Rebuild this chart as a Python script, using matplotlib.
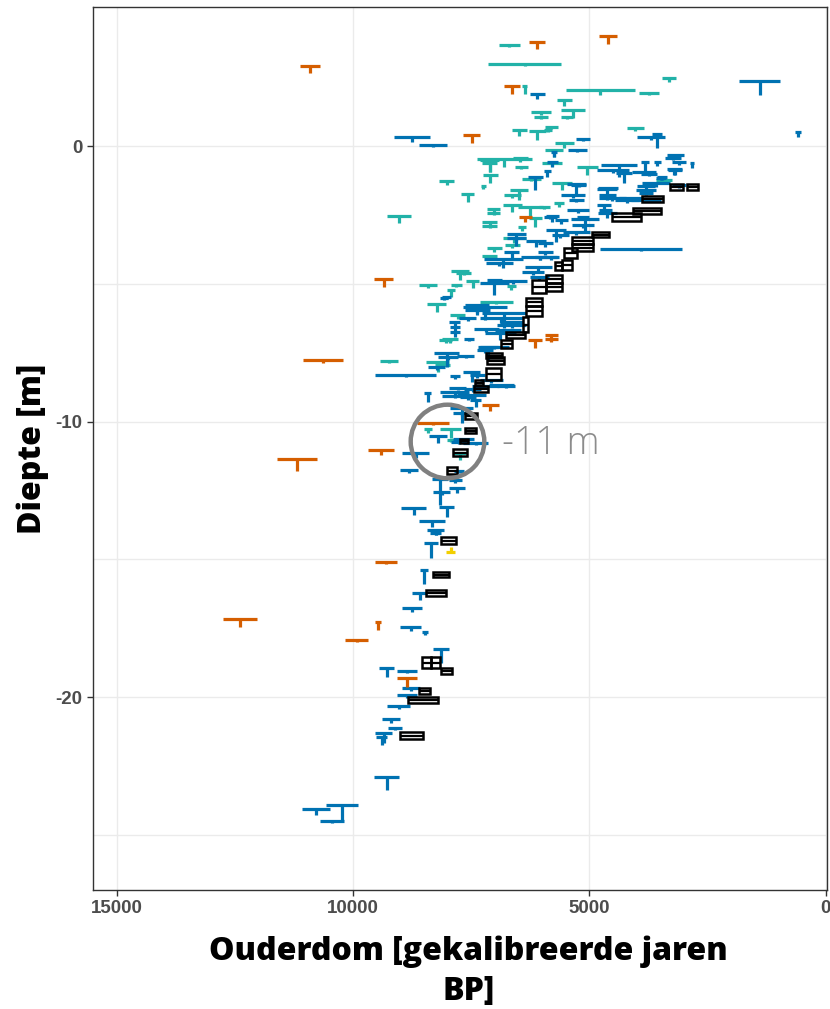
import numpy as np
import matplotlib
matplotlib.use("Agg")
import matplotlib.pyplot as plt
from matplotlib.patches import Rectangle

plt.rcParams["axes.unicode_minus"] = False

# rows: age (cal yr BP), depth (m), age half-range (yr), depth range below (m)
blue_points = [
    (1395, 2.36, 440, 0.51), (590, 0.51, 60, 0.18), (3695, 0.33, 295, 0.11),
    (3565, 0.44, 110, 0.51), (6100, 1.89, 160, 0.18), (8755, 0.33, 380, 0.18),
    (8315, 0.04, 295, 0.07), (5130, 0.25, 150, 0.07), (5255, -0.15, 200, 0.07),
    (5780, -0.58, 120, 0.18), (5740, -0.22, 60, 0.18), (5885, -0.91, 80, 0.22),
    (3185, -0.33, 180, 0.11), (3230, -0.44, 170, 0.07), (3100, -0.58, 150, 0.11),
    (2825, -0.62, 40, 0.18), (3820, -0.58, 85, 0.47), (3565, -0.58, 75, 0.15),
    (4370, -0.69, 390, 0.44), (4495, -0.87, 340, 0.11), (3840, -0.94, 250, 0.11),
    (3205, -0.83, 160, 0.22), (3460, -1.13, 110, 0.11), (3585, -1.34, 300, 0.15),
    (3800, -1.45, 200, 0.29), (3800, -1.60, 210, 0.11), (3800, -1.71, 140, 0.07),
    (5275, -1.38, 200, 0.40), (5340, -1.78, 260, 0.11), (5275, -1.96, 160, 0.07),
    (4620, -1.56, 210, 0.40), (4620, -1.78, 180, 0.11), (4515, -1.89, 285, 0.11),
    (4685, -2.14, 150, 0.18), (4660, -2.32, 140, 0.11), (4620, -2.43, 200, 0.18),
    (5235, -2.32, 230, 0.11), (4200, -1.96, 245, 0.11), (5780, -2.54, 140, 0.22),
    (5590, -2.69, 140, 0.15), (5085, -2.65, 295, 0.44), (5125, -2.87, 230, 0.11),
    (5700, -3.05, 210, 0.44), (5615, -3.23, 180, 0.11), (5275, -3.12, 285, 0.11),
    (5930, -3.52, 160, 0.15), (5930, -3.85, 160, 0.11), (6035, -4.03, 110, 0.11),
    (3905, -3.74, 875, 0.07), (3105, -1.42, 150, 0.11), (6815, -4.10, 410, 0.33),
    (6900, -4.25, 285, 0.11), (5800, -4.03, 120, 0.11), (6080, -4.39, 285, 0.15),
    (6190, -4.57, 240, 0.11), (6055, -4.76, 200, 0.11), (7005, -4.97, 316, 0.44),
    (7005, -4.86, 160, 0.07), (6605, -4.90, 285, 0.11), (8080, -5.52, 85, 0.07),
    (7215, -5.84, 465, 0.47), (7365, -5.95, 265, 0.11), (6795, -6.06, 465, 0.54),
    (6860, -6.24, 455, 0.18), (6645, -6.39, 245, 0.11), (6645, -6.50, 315, 0.11),
    (7850, -6.39, 115, 0.22), (7575, -6.24, 180, 0.11), (7850, -6.75, 105, 0.18),
    (7175, -6.64, 265, 0.11), (6880, -6.79, 325, 0.25), (6720, -6.68, 275, 0.07),
    (7535, -7.01, 105, 0.07), (7150, -7.30, 210, 0.47), (7215, -7.41, 170, 0.11),
    (8020, -7.51, 265, 0.51), (7995, -7.66, 210, 0.11), (7615, -7.62, 180, 0.07),
    (8230, -8.02, 180, 0.11), (8885, -8.31, 645, 0.07), (7850, -8.35, 105, 0.11),
    (7490, -8.20, 180, 0.36), (7365, -8.31, 160, 0.11), (7785, -8.78, 180, 0.07),
    (7850, -8.93, 315, 0.18), (7850, -9.08, 255, 0.07), (6770, -8.71, 190, 0.07),
    (8420, -8.97, 75, 0.33), (7070, -8.49, 245, 0.11), (7470, -8.82, 170, 0.11),
    (7490, -9.04, 315, 0.11), (7405, -9.22, 125, 0.25), (7700, -9.51, 245, 0.54),
    (7700, -9.69, 180, 0.11), (8190, -10.53, 190, 0.25), (7660, -10.64, 230, 0.11),
    (7765, -10.75, 160, 0.07), (7405, -10.78, 265, 0.07), (8675, -11.14, 295, 0.18),
    (8820, -11.76, 190, 0.11), (7765, -11.80, 105, 0.07), (8165, -12.09, 170, 0.94),
    (7830, -12.12, 140, 0.11), (7790, -12.41, 170, 0.18), (8125, -12.56, 180, 0.11),
    (8020, -13.10, 160, 0.36), (8715, -13.14, 265, 0.25), (8335, -13.61, 275, 0.22),
    (8250, -13.94, 180, 0.18), (8250, -14.05, 120, 0.07), (8355, -14.41, 150, 0.54),
    (8505, -15.39, 85, 0.51), (8590, -16.23, 150, 0.25), (8755, -16.77, 210, 0.15),
    (8780, -17.46, 230, 0.15), (8480, -17.64, 65, 0.11), (8145, -18.26, 170, 0.51),
    (9285, -18.95, 160, 0.33), (8860, -19.06, 210, 0.07), (8780, -19.67, 190, 0.11),
    (8860, -19.93, 210, 0.11), (9030, -20.33, 245, 0.11), (9200, -20.80, 190, 0.15),
    (9115, -21.13, 150, 0.07), (9345, -21.31, 180, 0.36), (9390, -21.45, 120, 0.29),
    (9285, -22.91, 265, 0.47), (10235, -23.92, 340, 0.54), (10780, -24.07, 295, 0.22),
    (10445, -24.50, 255, 0.07), (6140, -1.12, 160, 0.47), (5825, -2.58, 140, 0.07),
    (6540, -3.19, 210, 0.44), (6540, -3.34, 210, 0.11), (6120, -3.45, 210, 0.22),
    (6645, -3.85, 160, 0.29), (6035, -4.03, 400, 0.11), (4260, -0.98, 170, 0.36),
    (3185, -0.87, 140, 0.18), (3735, -1.02, 160, 0.07), (3480, -1.16, 105, 0.07),
    (5220, -1.42, 160, 0.07), (4600, -1.52, 210, 0.07), (4125, -1.89, 245, 0.07),
    (3800, -1.96, 315, 0.07), (5125, -2.58, 130, 0.07), (8020, -5.48, 105, 0.07),
    (7375, -5.77, 250, 0.36), (7850, -6.57, 105, 0.18), (7005, -7.30, 315, 0.07),
    (6860, -8.67, 265, 0.07), (7195, -8.71, 285, 0.07), (7575, -9.11, 170, 0.11),
]

teal_points = [
    (6690, 3.67, 220, 0.07), (6370, 2.98, 780, 0.07), (6370, 2.18, 60, 0.29),
    (4770, 2.03, 730, 0.18), (3735, 1.92, 220, 0.07), (3315, 2.47, 150, 0.15),
    (4030, 0.65, 180, 0.11), (5530, 1.67, 160, 0.22), (6015, 1.23, 210, 0.11),
    (6015, 1.05, 150, 0.07), (5340, 1.31, 260, 0.29), (5465, 1.05, 130, 0.07),
    (6795, -0.47, 590, 0.29), (7110, -0.51, 210, 0.44), (6460, -0.44, 160, 0.15),
    (7110, -0.62, 160, 0.33), (6435, -0.76, 130, 0.07), (8020, -1.27, 150, 0.15),
    (7090, -1.05, 150, 0.29), (7240, -1.45, 60, 0.11), (7575, -1.74, 130, 0.29),
    (9030, -2.54, 250, 0.25), (6225, -1.20, 200, 0.07), (6480, -1.60, 190, 0.36),
    (6625, -1.78, 180, 0.11), (7025, -2.29, 140, 0.11), (7025, -2.43, 140, 0.07),
    (6625, -2.14, 210, 0.25), (6245, -2.21, 270, 0.36), (6140, -2.61, 130, 0.33),
    (7110, -2.76, 150, 0.11), (7110, -2.90, 150, 0.07), (6415, -2.94, 85, 0.15),
    (6585, -3.34, 250, 0.18), (6625, -3.59, 150, 0.11), (7005, -3.70, 160, 0.15),
    (7110, -3.99, 160, 0.15), (7725, -4.54, 190, 0.33), (7660, -4.61, 160, 0.07),
    (7470, -4.90, 130, 0.25), (8420, -5.05, 190, 0.11), (7810, -5.05, 110, 0.07),
    (7935, -5.23, 85, 0.25), (8230, -5.74, 200, 0.29), (6965, -5.66, 350, 0.07),
    (6650, -5.08, 90, 0.15), (7785, -6.13, 160, 0.15), (8040, -7.04, 130, 0.11),
    (9240, -7.80, 190, 0.07), (8210, -7.84, 240, 0.36), (8105, -7.95, 160, 0.07),
    (7955, -7.00, 170, 0.15), (8420, -10.27, 85, 0.15), (7935, -10.27, 230, 0.33),
    (7745, -11.14, 130, 0.25), (7935, -10.67, 85, 0.07), (6480, 0.58, 160, 0.22),
    (6100, 0.54, 180, 0.33), (5800, 0.69, 130, 0.07), (5530, 0.11, 200, 0.18),
    (5740, -0.15, 190, 0.25), (5780, -0.62, 210, 0.11), (5045, -0.76, 220, 0.29),
    (5570, -1.34, 210, 0.25), (3420, -1.23, 160, 0.11), (5635, -2.07, 110, 0.15),
    (5950, -2.21, 110, 0.07), (5870, 0.58, 80, 0.07),
]

orange_points = [
    (10910, 2.90, 210, 0.25), (6100, 3.78, 170, 0.25), (4600, 3.99, 190, 0.29),
    (6625, 2.18, 170, 0.29), (7490, 0.40, 180, 0.29), (6350, -2.58, 130, 0.18),
    (9350, -4.83, 200, 0.29), (6140, -7.04, 150, 0.29), (5800, -6.86, 130, 0.25),
    (5800, -7.00, 130, 0.07), (10630, -7.77, 420, 0.10), (8310, -10.05, 340, 0.07),
    (9410, -11.04, 270, 0.18), (11180, -11.36, 420, 0.44), (7090, -9.40, 170, 0.22),
    (9305, -15.10, 230, 0.07), (9475, -17.28, 60, 0.29), (9920, -17.93, 240, 0.07),
    (12390, -17.17, 360, 0.29), (8860, -19.31, 210, 0.33),
]

# inverted marker: range reaches upward from the bar
yellow_points = [(7930, -14.74, 100, 0.18)]

# boxes: older age, younger age, upper depth, lower depth
box_ranges = [
    (3292, 3017, -1.38, -1.60), (2933, 2701, -1.38, -1.60), (3882, 3439, -1.82, -2.03),
    (4072, 3482, -2.25, -2.47), (4515, 3904, -2.43, -2.72), (4937, 4579, -3.12, -3.30),
    (5359, 4916, -3.30, -3.56), (5359, 4916, -3.56, -3.81), (5528, 5254, -3.70, -4.07),
    (5570, 5359, -4.14, -4.50), (5718, 5570, -4.21, -4.50), (5908, 5570, -4.68, -4.97),
    (5908, 5570, -4.97, -5.26), (6203, 5908, -4.86, -5.34), (6330, 5992, -5.52, -5.81),
    (6330, 5992, -5.81, -6.17), (6393, 6288, -6.21, -6.75), (6752, 6351, -6.75, -6.97),
    (6858, 6625, -7.04, -7.33), (7195, 6836, -7.51, -7.70), (7174, 6794, -7.66, -7.91),
    (7195, 6858, -8.06, -8.49), (7427, 7258, -8.49, -8.68), (7448, 7132, -8.71, -8.93),
    (7638, 7385, -9.69, -9.91), (7638, 7406, -10.24, -10.42), (7744, 7575, -10.64, -10.78),
    (7891, 7596, -11.00, -11.25), (8018, 7807, -11.65, -11.91), (8145, 7828, -14.19, -14.45),
    (8313, 7976, -15.46, -15.65), (8461, 8039, -16.12, -16.34), (8546, 8356, -18.55, -18.95),
    (8356, 8166, -18.55, -18.95), (8145, 7913, -18.95, -19.17), (8609, 8377, -19.67, -19.89),
    (8841, 8208, -20.00, -20.22), (9010, 8524, -21.27, -21.53),
]

BLUE = "#0072B2"
TEAL = "#22B2A8"
ORANGE = "#D55E00"
YELLOW = "#F2CF00"


def draw_t(ax, rows, color, upward=False):
    a = np.array(rows, dtype=float)
    age, depth, aerr, derr = a.T
    tip = depth + derr if upward else depth - derr
    ax.hlines(depth, age - aerr, age + aerr, colors=color, lw=2.3, zorder=3)
    ax.vlines(age, depth, tip, colors=color, lw=2.3, zorder=3)


fig = plt.figure(figsize=(8.30, 10.09), dpi=100)
ax = fig.add_axes([0.112, 0.118, 0.8844, 0.8751])

draw_t(ax, teal_points, TEAL)
draw_t(ax, blue_points, BLUE)
draw_t(ax, orange_points, ORANGE)
draw_t(ax, yellow_points, YELLOW, upward=True)

for old, young, top, bot in box_ranges:
    ax.add_patch(Rectangle((young, bot), old - young, top - bot, facecolor="none",
                           edgecolor="black", lw=1.8, zorder=4))
    ax.hlines((top + bot) / 2, young, old, colors="black", lw=1.6, zorder=4)

# highlighted level
ax.plot([8020], [-10.7], marker="o", ms=53, mfc="none", mec="#808080", mew=3.2,
        zorder=5, linestyle="none")
ax.text(6840, -10.8, "-11 m", color="#8c8c8c", fontsize=27, family="Open Sans",
        fontweight="light", ha="left", va="center", zorder=5)

ax.set_xlim(15500, -30)
ax.set_ylim(-27.0, 5.05)
ax.set_xticks([15000, 10000, 5000, 0])
ax.set_yticks([0, -10, -20])
ax.set_yticks([-5, -15, -25], minor=True)
ax.grid(True, which="both", color="#EBEBEB", lw=1.0, zorder=0)
ax.set_axisbelow(True)
ax.tick_params(which="minor", length=0)
ax.tick_params(which="major", length=4, width=1, color="#333333")
for lab in ax.get_xticklabels() + ax.get_yticklabels():
    lab.set_family("Liberation Sans")
    lab.set_fontweight("bold")
    lab.set_fontsize(13.5)
    lab.set_color("#4D4D4D")
for sp in ax.spines.values():
    sp.set_color("#333333")
    sp.set_linewidth(1.0)

ax.set_ylabel("Diepte [m]", family="Open Sans", fontweight="heavy", fontsize=23)
ax.yaxis.set_label_coords(-0.06, 0.5)
ax.set_xlabel("Ouderdom [gekalibreerde jaren\nBP]", family="Open Sans",
              fontweight="heavy", fontsize=23, linespacing=1.3)
ax.xaxis.set_label_coords(0.512, -0.052)
ax.xaxis.label.set_va("top")

fig.savefig("out.png", dpi=100)
